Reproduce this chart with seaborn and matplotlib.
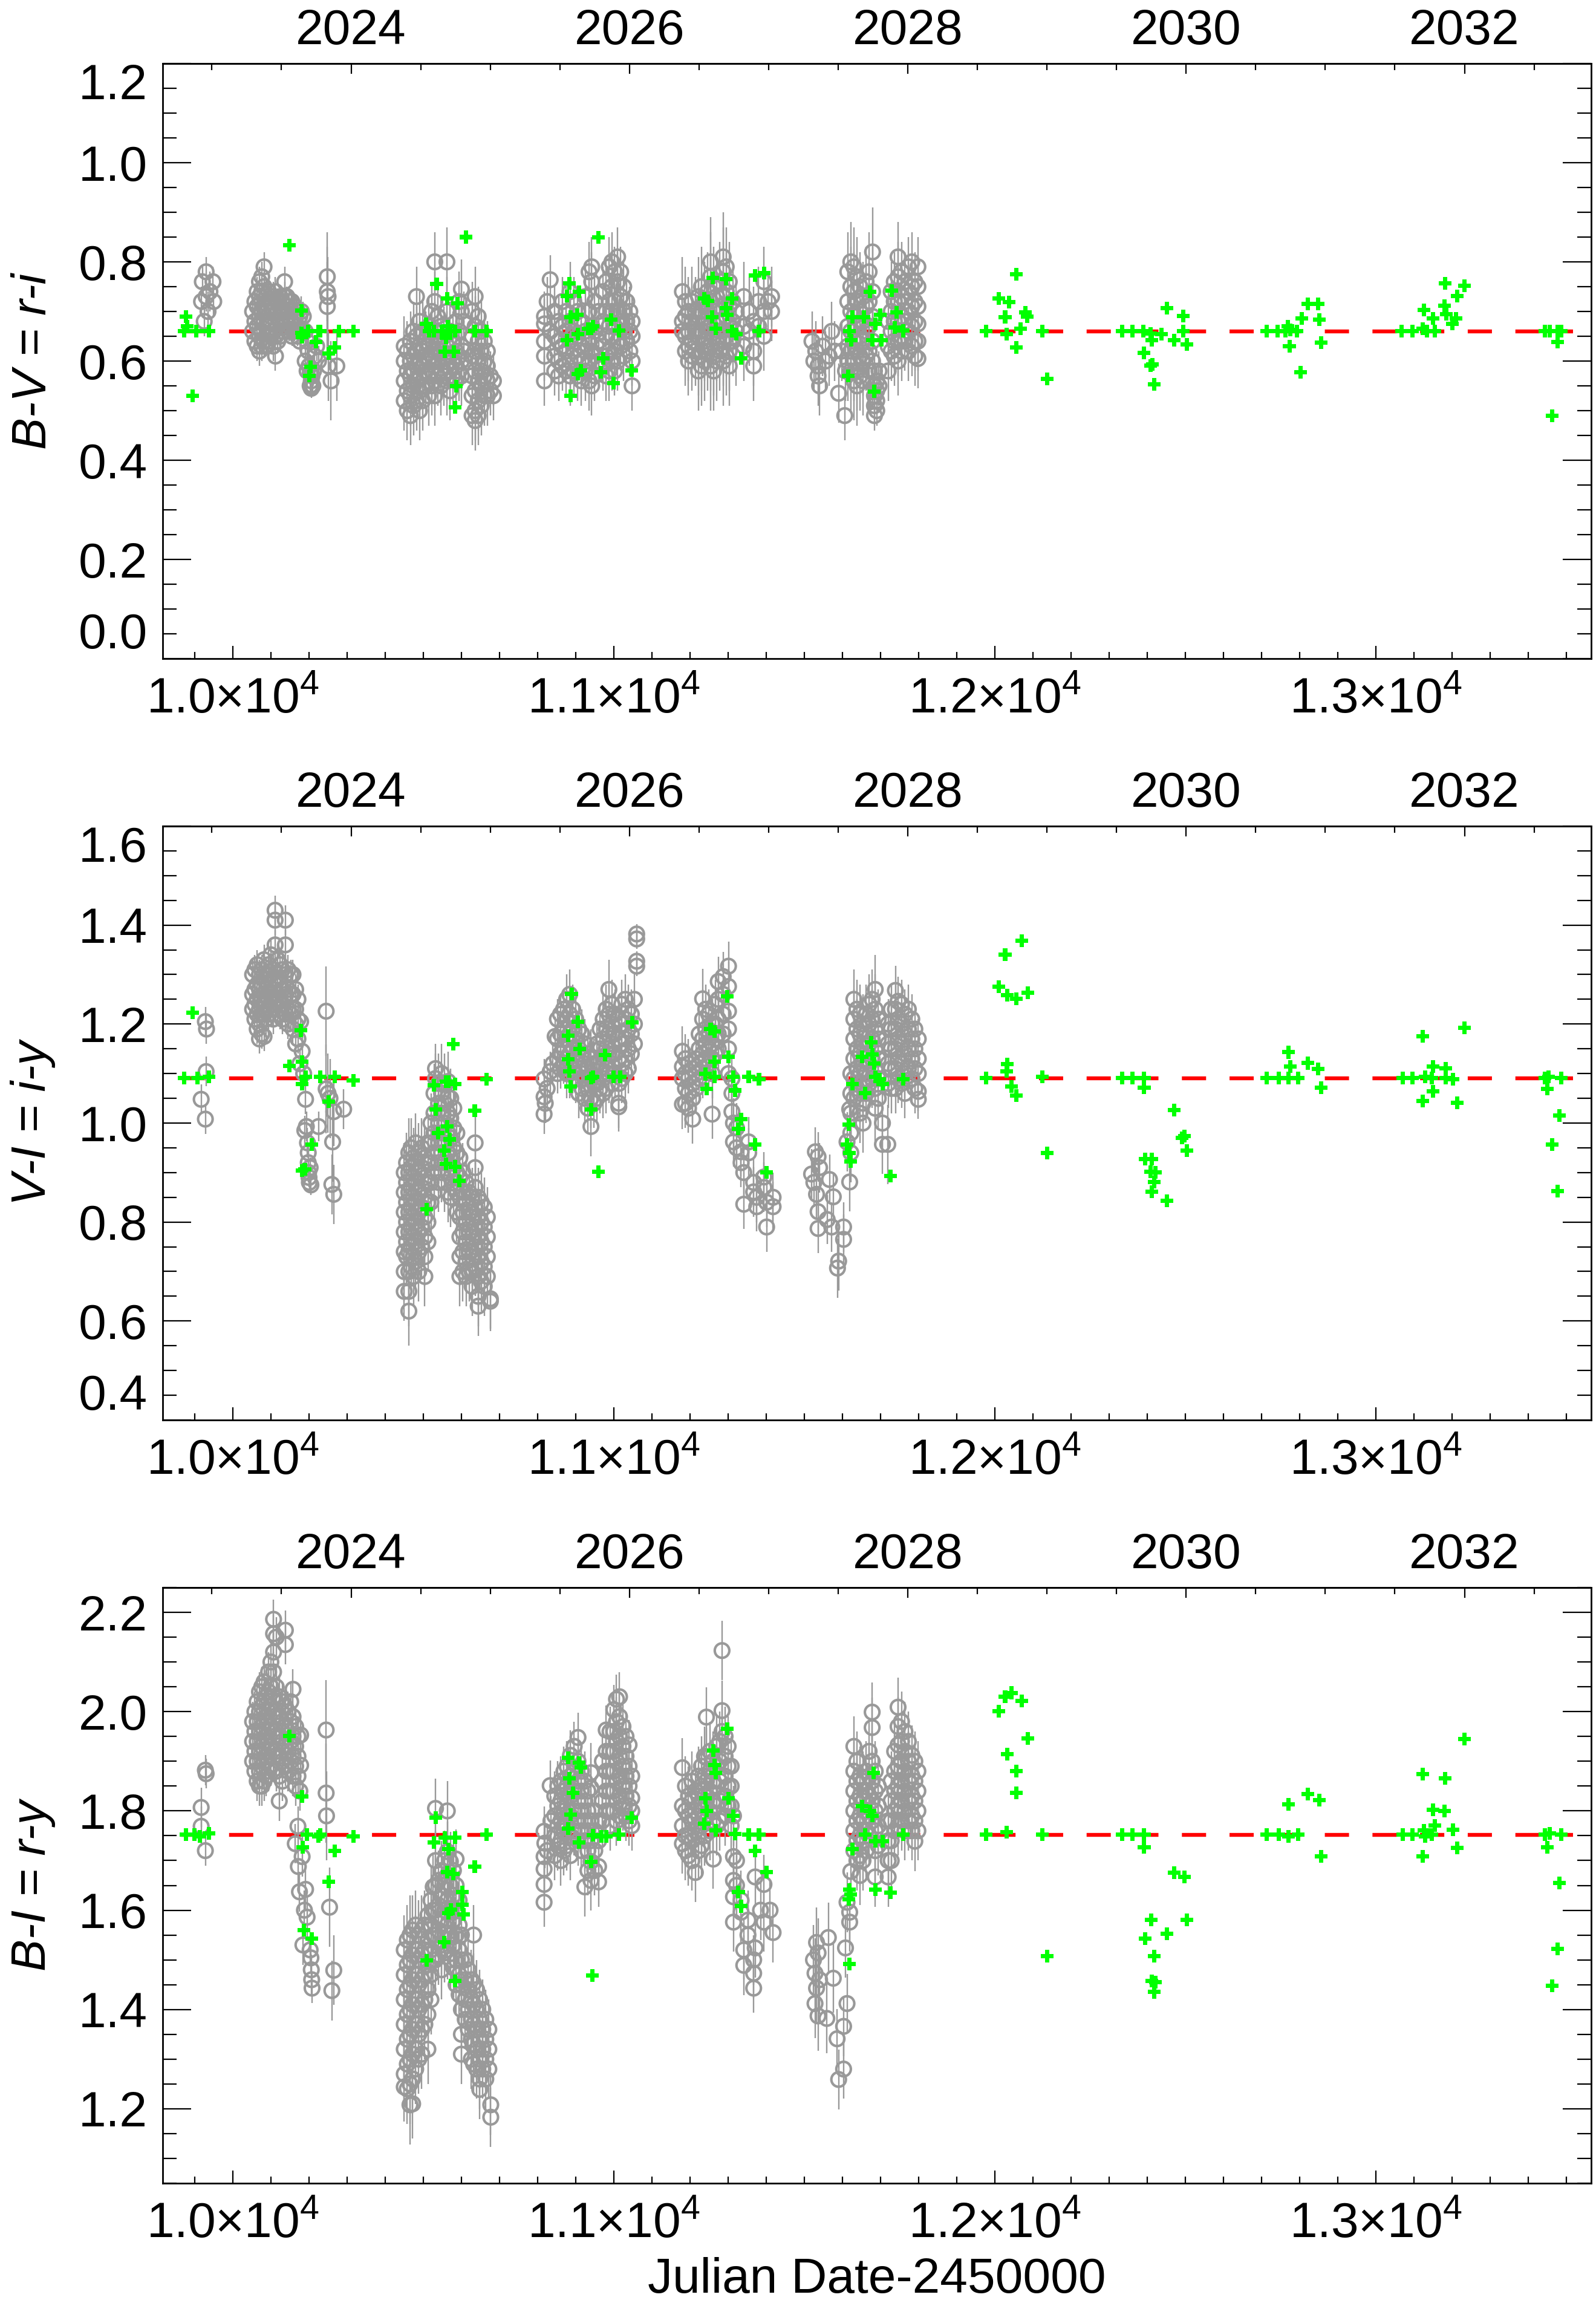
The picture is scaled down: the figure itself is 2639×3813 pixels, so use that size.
import matplotlib
matplotlib.use('Agg')
import matplotlib.pyplot as plt
import matplotlib.ticker as mticker
import pandas as pd
import seaborn as sns

# ---- data: (JD-2450000, [colour values], error) for gray points; (JD, value) for green ----
bv_gray = [
    (9918, [0.72], 0.03), (9920, [0.76], 0.03), (9925, [0.68], 0.03), (9930, [0.78, 0.73], 0.03),
    (9935, [0.70], 0.04), (9940, [0.74], 0.04), (9948, [0.76], 0.03), (9950, [0.72], 0.03),
    (10052, [0.66, 0.70], 0.02), (10058, [0.64, 0.68, 0.72], 0.02), (10064, [0.63, 0.67, 0.71, 0.74], 0.03),
    (10070, [0.62, 0.65, 0.69, 0.73, 0.76], 0.03), (10076, [0.63, 0.66, 0.70, 0.74, 0.77], 0.03),
    (10082, [0.64, 0.68, 0.71, 0.75, 0.79], 0.03), (10088, [0.63, 0.67, 0.70, 0.73], 0.02),
    (10094, [0.64, 0.68, 0.72, 0.74], 0.02), (10100, [0.65, 0.69, 0.72], 0.02),
    (10106, [0.63, 0.66, 0.70, 0.73], 0.03), (10112, [0.61, 0.65, 0.68, 0.71, 0.74], 0.03),
    (10118, [0.64, 0.67, 0.70, 0.72], 0.02), (10124, [0.65, 0.68, 0.71, 0.73], 0.02),
    (10130, [0.66, 0.69, 0.72], 0.02), (10136, [0.67, 0.70, 0.73, 0.76], 0.03),
    (10142, [0.68, 0.71, 0.73], 0.02), (10148, [0.66, 0.70, 0.72], 0.02),
    (10155, [0.65, 0.68, 0.70, 0.72], 0.02), (10162, [0.66, 0.69, 0.71], 0.02),
    (10170, [0.65, 0.67, 0.70], 0.02), (10176, [0.64, 0.66, 0.69], 0.02),
    (10180, [0.70], 0.03), (10185, [0.69], 0.03), (10190, [0.66, 0.60], 0.03), (10195, [0.64, 0.58], 0.03),
    (10198, [0.62], 0.03), (10200, [0.59], 0.03), (10203, [0.575, 0.55], 0.02), (10206, [0.56, 0.545], 0.02),
    (10208, [0.57], 0.02), (10210, [0.55], 0.02), (10212, [0.58], 0.03), (10215, [0.61], 0.03),
    (10220, [0.63], 0.03), (10225, [0.60], 0.03),
    (10248, [0.77, 0.74, 0.71], 0.09), (10250, [0.73], 0.08), (10251, [0.59], 0.07), (10258, [0.56], 0.08),
    (10273, [0.59], 0.07),
    (10450, [0.63, 0.60, 0.56, 0.52], 0.06), (10458, [0.62, 0.58, 0.54, 0.50], 0.06),
    (10466, [0.64, 0.60, 0.57, 0.53, 0.49], 0.06), (10474, [0.66, 0.61, 0.58, 0.55, 0.51], 0.06),
    (10482, [0.73, 0.65, 0.62, 0.59, 0.56, 0.52], 0.06), (10490, [0.68, 0.63, 0.60, 0.57, 0.54, 0.50], 0.06),
    (10498, [0.66, 0.62, 0.59, 0.55, 0.52], 0.06), (10506, [0.64, 0.61, 0.58, 0.55], 0.06),
    (10514, [0.67, 0.63, 0.60, 0.57, 0.53], 0.06), (10522, [0.70, 0.65, 0.61, 0.58, 0.55], 0.06),
    (10530, [0.80, 0.72, 0.66, 0.62, 0.59, 0.56, 0.53], 0.06), (10538, [0.69, 0.64, 0.60, 0.57], 0.06),
    (10546, [0.67, 0.62, 0.58, 0.55], 0.06), (10554, [0.65, 0.61, 0.57], 0.06),
    (10562, [0.80, 0.70, 0.63, 0.59, 0.56], 0.07), (10570, [0.66, 0.61, 0.58, 0.54], 0.06),
    (10578, [0.64, 0.60, 0.57], 0.06), (10586, [0.68, 0.62, 0.59, 0.56], 0.06),
    (10594, [0.72, 0.66, 0.61, 0.58], 0.06), (10600, [0.745, 0.70, 0.63, 0.60, 0.57], 0.06),
    (10606, [0.68, 0.62], 0.06),
    (10628, [0.70, 0.65, 0.61, 0.57, 0.53, 0.49], 0.06), (10636, [0.73, 0.67, 0.62, 0.58, 0.54, 0.50, 0.48], 0.06),
    (10644, [0.69, 0.64, 0.60, 0.56, 0.52, 0.49], 0.06), (10652, [0.66, 0.62, 0.58, 0.55, 0.51], 0.06),
    (10660, [0.64, 0.60, 0.57, 0.53], 0.06), (10668, [0.62, 0.59, 0.56, 0.53], 0.06),
    (10676, [0.57, 0.54], 0.05), (10684, [0.56, 0.53], 0.05),
    (10833, [0.764, 0.66], 0.05), (10818, [0.69, 0.675, 0.64, 0.61, 0.56], 0.05), (10825, [0.72], 0.05),
    (10845, [0.70, 0.65, 0.61, 0.58], 0.05), (10855, [0.68, 0.64, 0.60, 0.57], 0.05),
    (10865, [0.72, 0.67, 0.63, 0.59], 0.05), (10875, [0.70, 0.66, 0.62, 0.58], 0.05),
    (10885, [0.74, 0.68, 0.64, 0.60, 0.57], 0.06), (10895, [0.72, 0.66, 0.62, 0.58], 0.05),
    (10905, [0.70, 0.65, 0.61, 0.57], 0.05), (10915, [0.68, 0.63, 0.60, 0.56], 0.05),
    (10925, [0.73, 0.66, 0.62, 0.58], 0.06), (10935, [0.78, 0.70, 0.64, 0.60, 0.56], 0.06),
    (10942, [0.79, 0.76, 0.67, 0.62, 0.55], 0.06), (10950, [0.72, 0.66, 0.61, 0.57], 0.05),
    (10960, [0.70, 0.64, 0.60], 0.05),
    (10972, [0.74, 0.68, 0.63, 0.59], 0.05), (10980, [0.76, 0.70, 0.65, 0.61, 0.57], 0.05),
    (10988, [0.79, 0.72, 0.67, 0.62, 0.58], 0.06), (10995, [0.80, 0.75, 0.70, 0.65, 0.60], 0.06),
    (11002, [0.78, 0.72, 0.67, 0.62, 0.58], 0.05), (11010, [0.81, 0.76, 0.70, 0.64, 0.60], 0.06),
    (11018, [0.78, 0.73, 0.68, 0.63], 0.05), (11026, [0.75, 0.70, 0.66, 0.61], 0.05),
    (11034, [0.72, 0.68, 0.64], 0.05), (11042, [0.70, 0.66, 0.62], 0.05),
    (11048, [0.68, 0.65, 0.60, 0.55], 0.05),
    (11180, [0.74, 0.68, 0.66], 0.07), (11188, [0.72, 0.69, 0.65, 0.62], 0.07),
    (11196, [0.70, 0.66, 0.63, 0.60], 0.07), (11205, [0.72, 0.68, 0.64, 0.61], 0.07),
    (11214, [0.70, 0.66, 0.62], 0.07), (11222, [0.73, 0.69, 0.65, 0.61, 0.58], 0.08),
    (11230, [0.75, 0.70, 0.66, 0.62, 0.59], 0.08), (11238, [0.72, 0.68, 0.64, 0.60], 0.08),
    (11246, [0.74, 0.70, 0.66, 0.62], 0.08), (11254, [0.80, 0.77, 0.72, 0.67, 0.63, 0.59], 0.09),
    (11262, [0.75, 0.70, 0.65, 0.61, 0.58], 0.08), (11270, [0.73, 0.68, 0.64, 0.60], 0.08),
    (11278, [0.76, 0.71, 0.66, 0.62], 0.08), (11287, [0.81, 0.78, 0.73, 0.68, 0.64, 0.60], 0.09),
    (11295, [0.79, 0.74, 0.69, 0.65, 0.61], 0.08), (11303, [0.76, 0.71, 0.67, 0.62, 0.59], 0.08),
    (11312, [0.72, 0.68, 0.64], 0.07), (11320, [0.70, 0.66, 0.62], 0.07),
    (11341, [0.73, 0.67, 0.63], 0.07), (11355, [0.70, 0.66], 0.07), (11367, [0.68, 0.62, 0.59], 0.07),
    (11380, [0.72, 0.67], 0.07), (11394, [0.76, 0.70, 0.65], 0.07), (11405, [0.72], 0.06),
    (11414, [0.73, 0.70], 0.06),
    (11520, [0.64], 0.06), (11525, [0.60], 0.06), (11530, [0.62], 0.06), (11536, [0.57, 0.59], 0.06),
    (11540, [0.55], 0.06), (11548, [0.63], 0.06), (11556, [0.60], 0.06), (11565, [0.61], 0.06),
    (11572, [0.66], 0.06), (11580, [0.62], 0.06), (11590, [0.535], 0.06), (11598, [0.62], 0.06),
    (11606, [0.49], 0.05), (11608, [0.58], 0.06),
    (11614, [0.78, 0.72, 0.67, 0.63, 0.60], 0.08), (11622, [0.80, 0.75, 0.70, 0.66, 0.62, 0.58], 0.08),
    (11630, [0.79, 0.74, 0.69, 0.64, 0.60, 0.56], 0.08), (11638, [0.77, 0.72, 0.67, 0.62, 0.58, 0.55], 0.08),
    (11646, [0.75, 0.70, 0.65, 0.61, 0.57], 0.07), (11654, [0.73, 0.68, 0.64, 0.60, 0.56], 0.07),
    (11662, [0.76, 0.71, 0.66, 0.61], 0.07), (11670, [0.78, 0.72, 0.67, 0.62, 0.58], 0.08),
    (11679, [0.82, 0.74, 0.69, 0.64, 0.60], 0.09), (11684, [0.58, 0.55, 0.53, 0.51, 0.49], 0.03),
    (11690, [0.56, 0.54, 0.52, 0.50], 0.03), (11696, [0.58, 0.55], 0.04),
    (11720, [0.68, 0.63, 0.58], 0.06), (11728, [0.74, 0.70, 0.66, 0.62], 0.06),
    (11736, [0.76, 0.72, 0.68, 0.64, 0.61], 0.06), (11746, [0.81, 0.77, 0.72, 0.68, 0.64, 0.60], 0.07),
    (11755, [0.78, 0.73, 0.69, 0.65, 0.62], 0.06), (11764, [0.76, 0.72, 0.68, 0.64], 0.06),
    (11773, [0.79, 0.74, 0.70, 0.66, 0.62], 0.06), (11782, [0.80, 0.75, 0.71, 0.67, 0.63], 0.06),
    (11790, [0.76, 0.72, 0.68, 0.64, 0.61], 0.06), (11798, [0.79, 0.75, 0.71, 0.675, 0.64, 0.605], 0.06),
]

bv_green = [
    (9873, 0.66), (9877, 0.69), (9880, 0.67), (9894, 0.53), (9904, 0.66), (9937, 0.66),
    (10148, 0.834), (10180, 0.702), (10180, 0.657), (10182, 0.648), (10198, 0.66), (10225, 0.66),
    (10219, 0.639), (10230, 0.66), (10278, 0.66), (10316, 0.66), (10204, 0.588), (10201, 0.570),
    (10251, 0.615), (10267, 0.628),
    (10535, 0.756), (10612, 0.85), (10565, 0.67), (10563, 0.726), (10590, 0.717), (10560, 0.647),
    (10580, 0.619), (10556, 0.619), (10587, 0.549), (10583, 0.507), (10508, 0.675), (10515, 0.66),
    (10528, 0.66), (10548, 0.66), (10571, 0.66), (10584, 0.66), (10635, 0.66), (10666, 0.66),
    (10960, 0.849), (10884, 0.757), (10877, 0.731), (10909, 0.74), (10886, 0.689), (10904, 0.693),
    (10877, 0.642), (10906, 0.654), (10933, 0.665), (10940, 0.665), (10946, 0.67), (10993, 0.684),
    (11013, 0.661), (10973, 0.605), (10966, 0.577), (11000, 0.555), (10913, 0.581), (10906, 0.574),
    (10886, 0.53), (11047, 0.581),
    (11238, 0.726), (11247, 0.721), (11259, 0.768), (11295, 0.765), (11258, 0.689), (11268, 0.665),
    (11295, 0.707), (11311, 0.726), (11298, 0.693), (11311, 0.66), (11322, 0.654), (11334, 0.605),
    (11371, 0.773), (11394, 0.777), (11381, 0.66),
    (11626, 0.689), (11619, 0.66), (11623, 0.642), (11615, 0.57), (11656, 0.689), (11672, 0.74),
    (11686, 0.675), (11679, 0.642), (11699, 0.693), (11702, 0.642), (11729, 0.742), (11742, 0.698),
    (11737, 0.668), (11759, 0.661), (11683, 0.539),
    (11977, 0.66), (12011, 0.726), (12027, 0.689), (12037, 0.719), (12031, 0.654), (12057, 0.775),
    (12067, 0.665), (12056, 0.628), (12080, 0.698), (12085, 0.69), (12124, 0.66), (12138, 0.564),
    (12334, 0.66), (12361, 0.66), (12390, 0.66), (12408, 0.656), (12412, 0.642), (12391, 0.616),
    (12408, 0.591), (12414, 0.593), (12418, 0.553), (12438, 0.654), (12451, 0.707), (12471, 0.642),
    (12495, 0.691), (12495, 0.66), (12504, 0.633),
    (12713, 0.66), (12742, 0.66), (12762, 0.66), (12769, 0.67), (12775, 0.663), (12773, 0.63),
    (12793, 0.66), (12806, 0.686), (12822, 0.715), (12849, 0.715), (12852, 0.684), (12802, 0.577),
    (12856, 0.637),
    (13067, 0.66), (13096, 0.66), (13123, 0.665), (13126, 0.703), (13134, 0.66), (13150, 0.686),
    (13154, 0.66), (13180, 0.712), (13182, 0.757), (13185, 0.695), (13200, 0.675), (13211, 0.686),
    (13214, 0.731), (13233, 0.752),
    (13444, 0.66), (13457, 0.66), (13477, 0.66), (13487, 0.66), (13477, 0.639), (13462, 0.49),
]

vi_gray = [
    (9917, [1.048], 0.03), (9928, [1.205, 1.008], 0.03), (9931, [1.19], 0.03), (9930, [1.104], 0.03),
    (10052, [1.30, 1.26, 1.23], 0.03), (10058, [1.31, 1.27, 1.24, 1.21], 0.03),
    (10064, [1.32, 1.28, 1.25, 1.22, 1.19], 0.03), (10070, [1.30, 1.27, 1.23, 1.20, 1.17], 0.03),
    (10076, [1.31, 1.28, 1.25, 1.22, 1.18], 0.03), (10082, [1.33, 1.29, 1.26, 1.22, 1.175], 0.03),
    (10088, [1.30, 1.27, 1.24, 1.21], 0.03), (10094, [1.32, 1.28, 1.25, 1.22], 0.03),
    (10100, [1.34, 1.30, 1.26, 1.23], 0.03), (10106, [1.31, 1.27, 1.24, 1.21], 0.03),
    (10111, [1.43, 1.41, 1.36, 1.29, 1.25], 0.03), (10118, [1.33, 1.29, 1.26, 1.23], 0.03),
    (10124, [1.32, 1.28, 1.25, 1.22], 0.03), (10130, [1.31, 1.27, 1.24, 1.21], 0.03),
    (10138, [1.41, 1.36, 1.30, 1.26, 1.22], 0.03), (10145, [1.31, 1.27, 1.23, 1.20], 0.03),
    (10152, [1.30, 1.26, 1.22], 0.03), (10158, [1.30, 1.26, 1.23, 1.19], 0.03),
    (10165, [1.27, 1.23, 1.20, 1.16], 0.03), (10171, [1.25, 1.21, 1.17], 0.03),
    (10178, [1.205], 0.03), (10182, [1.145], 0.03), (10176, [1.12], 0.03), (10186, [1.10], 0.03),
    (10191, [1.048], 0.03), (10193, [0.993], 0.03), (10189, [0.985], 0.03), (10198, [0.94, 0.92], 0.02),
    (10199, [0.90], 0.02), (10200, [0.89], 0.02), (10201, [0.88], 0.02), (10203, [0.91], 0.02),
    (10205, [0.875], 0.02), (10196, [0.96], 0.03), (10225, [0.993], 0.03),
    (10245, [1.226, 1.069], 0.09), (10250, [1.06], 0.08), (10255, [1.05], 0.08), (10265, [1.023], 0.07),
    (10262, [0.962], 0.08), (10260, [0.876], 0.06), (10265, [0.856], 0.06), (10291, [1.028], 0.04),
    (10450, [0.90, 0.86, 0.82, 0.78, 0.74, 0.70, 0.66], 0.06), (10456, [0.92, 0.88, 0.84, 0.80, 0.76, 0.73], 0.06),
    (10462, [0.94, 0.90, 0.86, 0.82, 0.78, 0.74, 0.70, 0.66, 0.62], 0.07),
    (10468, [0.95, 0.91, 0.87, 0.83, 0.79, 0.75, 0.71], 0.06),
    (10474, [0.93, 0.89, 0.85, 0.81, 0.77, 0.73, 0.69], 0.06),
    (10480, [0.96, 0.92, 0.88, 0.84, 0.80, 0.76, 0.72], 0.06),
    (10488, [0.94, 0.90, 0.86, 0.82, 0.78, 0.74, 0.70], 0.06),
    (10496, [0.95, 0.91, 0.87, 0.83, 0.79, 0.75], 0.06),
    (10504, [0.93, 0.89, 0.85, 0.81, 0.77, 0.73, 0.69], 0.06),
    (10512, [0.96, 0.92, 0.88, 0.84, 0.80, 0.76], 0.06), (10520, [1.00, 0.96, 0.92, 0.88, 0.84], 0.06),
    (10528, [1.06, 1.02, 0.98, 0.94, 0.90, 0.86], 0.06), (10532, [1.11, 1.09], 0.05),
    (10540, [1.08, 1.04, 1.00, 0.96, 0.92, 0.88], 0.06), (10548, [1.10, 1.06, 1.02, 0.98, 0.94, 0.90], 0.06),
    (10556, [1.08, 1.04, 1.00, 0.96, 0.92, 0.88], 0.06),
    (10565, [1.084, 1.053, 1.02, 0.98, 0.94, 0.90, 0.86], 0.06),
    (10572, [1.05, 1.01, 0.97, 0.93, 0.89, 0.85], 0.06), (10580, [1.03, 0.99, 0.95, 0.91, 0.87], 0.06),
    (10588, [0.98, 0.94, 0.90, 0.86, 0.82], 0.06), (10596, [0.93, 0.89, 0.85, 0.81, 0.77, 0.73, 0.69], 0.06),
    (10604, [0.90, 0.86, 0.82, 0.78, 0.74, 0.70], 0.06), (10612, [0.88, 0.84, 0.80, 0.76, 0.72, 0.69], 0.06),
    (10620, [0.86, 0.82, 0.78, 0.74, 0.70], 0.06), (10628, [0.85, 0.81, 0.77, 0.73, 0.70, 0.67], 0.06),
    (10636, [0.96, 0.91, 0.87, 0.83, 0.79, 0.75, 0.71], 0.06),
    (10644, [0.85, 0.81, 0.77, 0.73, 0.69, 0.65, 0.63], 0.06),
    (10652, [0.84, 0.80, 0.76, 0.72, 0.68], 0.06), (10660, [0.83, 0.79, 0.75, 0.71, 0.67], 0.06),
    (10668, [0.81, 0.77, 0.73, 0.69], 0.06), (10676, [0.64, 0.645], 0.06),
    (10817, [1.089, 1.053, 1.018], 0.04), (10820, [1.04], 0.04), (10833, [1.104], 0.04), (10825, [1.07], 0.04),
    (10840, [1.12], 0.04), (10846, [1.175], 0.04),
    (10852, [1.21, 1.17, 1.13, 1.10], 0.04), (10860, [1.22, 1.18, 1.14, 1.11], 0.04),
    (10868, [1.23, 1.19, 1.15, 1.12], 0.04), (10876, [1.25, 1.21, 1.17, 1.13, 1.10], 0.05),
    (10884, [1.26, 1.22, 1.18, 1.14, 1.10], 0.05), (10892, [1.23, 1.19, 1.15, 1.11], 0.05),
    (10900, [1.21, 1.17, 1.13, 1.09], 0.05), (10908, [1.19, 1.15, 1.11, 1.06], 0.05),
    (10916, [1.18, 1.14, 1.10, 1.07], 0.05), (10924, [1.16, 1.12, 1.09, 1.05], 0.05),
    (10932, [1.14, 1.11, 1.07, 1.03], 0.05), (10940, [1.13, 1.09, 1.05, 0.993], 0.06),
    (10948, [1.12, 1.08, 1.04], 0.05),
    (10956, [1.16, 1.12, 1.08, 1.05], 0.05), (10964, [1.19, 1.15, 1.11, 1.07], 0.05),
    (10972, [1.21, 1.17, 1.13, 1.09, 1.06], 0.05), (10980, [1.23, 1.19, 1.15, 1.11, 1.07], 0.05),
    (10987, [1.27, 1.22, 1.18, 1.14, 1.10], 0.06), (10995, [1.24, 1.20, 1.16, 1.12, 1.08], 0.05),
    (11003, [1.22, 1.18, 1.14, 1.10], 0.05), (11013, [1.21, 1.17, 1.13, 1.08, 1.033, 1.04], 0.05),
    (11021, [1.24, 1.20, 1.16, 1.12, 1.09], 0.05), (11030, [1.25, 1.21, 1.17, 1.13, 1.10], 0.05),
    (11038, [1.23, 1.19, 1.15, 1.11], 0.05), (11046, [1.22, 1.18, 1.14], 0.05),
    (11054, [1.25, 1.20, 1.16], 0.05), (11060, [1.382, 1.372, 1.327, 1.317], 0.02),
    (11180, [1.145, 1.114, 1.038, 1.09], 0.05), (11188, [1.13, 1.10, 1.07, 1.04], 0.05),
    (11196, [1.12, 1.09, 1.06, 1.03], 0.05), (11207, [1.11, 1.08, 1.05, 1.008], 0.05),
    (11216, [1.13, 1.10, 1.07], 0.05), (11224, [1.18, 1.15, 1.12, 1.09], 0.05),
    (11233, [1.251, 1.21, 1.17, 1.14, 1.11], 0.06), (11241, [1.23, 1.19, 1.16, 1.13], 0.05),
    (11249, [1.22, 1.18, 1.15, 1.12], 0.05), (11258, [1.20, 1.16, 1.13, 1.10, 1.018], 0.05),
    (11266, [1.24, 1.20, 1.17, 1.14], 0.05), (11274, [1.286, 1.25, 1.21, 1.18, 1.15], 0.05),
    (11287, [1.296, 1.26, 1.22, 1.18], 0.05), (11301, [1.317, 1.276, 1.226, 1.19, 1.15, 1.10], 0.05),
    (11310, [1.09, 1.06, 1.023], 0.05), (11314, [0.962, 1.00], 0.05), (11322, [0.99, 0.95], 0.05),
    (11334, [0.942, 0.92], 0.05), (11341, [0.836, 0.90], 0.05), (11354, [0.962, 0.94], 0.05),
    (11367, [0.861, 0.88], 0.05), (11375, [0.831, 0.85], 0.05), (11394, [0.891, 0.87], 0.05),
    (11401, [0.79, 0.84], 0.05), (11418, [0.831, 0.85], 0.05),
    (11529, [0.942], 0.05), (11536, [0.932, 0.821, 0.787], 0.05), (11519, [0.897], 0.05), (11532, [0.856], 0.05),
    (11525, [0.88], 0.05), (11540, [0.91], 0.05), (11566, [0.886], 0.05), (11560, [0.805], 0.05),
    (11576, [0.851], 0.05), (11572, [0.79], 0.05), (11603, [0.79, 0.765], 0.05), (11590, [0.721], 0.06),
    (11587, [0.707], 0.06), (11619, [0.881, 1.028], 0.06), (11612, [0.962], 0.06),
    (11622, [1.10, 1.06, 1.02, 0.98, 0.94], 0.06), (11630, [1.25, 1.21, 1.17, 1.13, 1.09, 1.05], 0.06),
    (11638, [1.23, 1.19, 1.15, 1.11, 1.07], 0.06), (11646, [1.22, 1.18, 1.14, 1.10, 1.06, 1.02], 0.06),
    (11654, [1.20, 1.16, 1.12, 1.08, 1.04, 1.00], 0.06), (11662, [1.22, 1.18, 1.14, 1.10, 1.06], 0.06),
    (11670, [1.24, 1.20, 1.16, 1.12, 1.08], 0.06), (11678, [1.25, 1.21, 1.17, 1.13, 1.09], 0.06),
    (11686, [1.27, 1.23, 1.19, 1.15, 1.11, 1.07, 1.03], 0.07), (11694, [1.21, 1.17, 1.13, 1.09, 1.05], 0.06),
    (11705, [0.957, 1.00], 0.06), (11719, [0.957], 0.08),
    (11720, [1.20, 1.16, 1.12, 1.08], 0.05), (11728, [1.23, 1.19, 1.15, 1.11, 1.07], 0.05),
    (11739, [1.268, 1.23, 1.19, 1.15, 1.11, 1.07], 0.05), (11746, [1.246, 1.21, 1.17, 1.13, 1.09], 0.05),
    (11755, [1.24, 1.20, 1.16, 1.12, 1.08], 0.05), (11764, [1.22, 1.18, 1.14, 1.10, 1.06], 0.05),
    (11773, [1.23, 1.19, 1.15, 1.11], 0.05), (11782, [1.21, 1.17, 1.13, 1.09], 0.05),
    (11790, [1.19, 1.15, 1.11, 1.07], 0.05), (11799, [1.17, 1.13, 1.10, 1.064, 1.048], 0.04),
]

vi_green = [
    (9894, 1.223), (9873, 1.091), (9908, 1.091), (9937, 1.094),
    (10148, 1.116), (10178, 1.187), (10182, 1.124), (10182, 1.079), (10191, 1.094), (10229, 1.094),
    (10267, 1.094), (10316, 1.086), (10251, 1.043), (10207, 0.957), (10182, 0.904), (10189, 0.907),
    (10509, 0.826), (10528, 1.076), (10532, 1.028), (10539, 0.98), (10555, 0.944), (10559, 0.917),
    (10569, 0.967), (10563, 0.993), (10559, 1.084), (10566, 1.084), (10579, 1.16), (10583, 1.079),
    (10583, 0.912), (10595, 0.883), (10635, 1.025), (10666, 1.089),
    (10889, 1.261), (10906, 1.205), (10880, 1.177), (10910, 1.15), (10880, 1.129), (10884, 1.104),
    (10886, 1.074), (10940, 1.028), (10946, 1.094), (10940, 1.091), (10960, 0.902), (10977, 1.137),
    (11000, 1.094), (11017, 1.094), (11049, 1.203),
    (11240, 1.099), (11244, 1.069), (11254, 1.19), (11264, 1.185), (11264, 1.124), (11264, 1.094),
    (11298, 1.256), (11301, 1.134), (11314, 1.094), (11318, 1.066), (11327, 0.988), (11334, 1.008),
    (11354, 1.094), (11381, 1.089), (11371, 0.957), (11401, 0.9),
    (11612, 0.957), (11619, 0.94), (11622, 0.922), (11616, 0.997), (11626, 1.079), (11652, 1.134),
    (11676, 1.163), (11679, 1.139), (11659, 1.061), (11683, 1.12), (11686, 1.094), (11697, 1.089),
    (11706, 1.079), (11726, 0.893), (11759, 1.089),
    (11977, 1.091), (12011, 1.276), (12027, 1.34), (12033, 1.259), (12057, 1.251), (12070, 1.369),
    (12087, 1.263), (12033, 1.119), (12031, 1.104), (12044, 1.074), (12057, 1.056), (12124, 1.094),
    (12138, 0.94),
    (12334, 1.091), (12361, 1.091), (12392, 1.091), (12392, 1.071), (12394, 0.927), (12412, 0.927),
    (12408, 0.902), (12422, 0.9), (12418, 0.881), (12412, 0.861), (12451, 0.843), (12471, 1.026),
    (12491, 0.97), (12498, 0.974), (12504, 0.944),
    (12713, 1.091), (12745, 1.091), (12771, 1.091), (12796, 1.091), (12771, 1.143), (12775, 1.114),
    (12822, 1.121), (12849, 1.109), (12856, 1.072),
    (13070, 1.091), (13096, 1.091), (13123, 1.175), (13123, 1.045), (13130, 1.094), (13150, 1.114),
    (13150, 1.064), (13147, 1.091), (13183, 1.111), (13183, 1.091), (13203, 1.089), (13214, 1.041),
    (13233, 1.192),
    (13444, 1.091), (13453, 1.094), (13487, 1.091), (13450, 1.069), (13481, 1.015), (13462, 0.957),
    (13477, 0.863),
]

bi_gray = [
    (9928, [1.882, 1.72], 0.03), (9930, [1.875], 0.03), (9917, [1.807, 1.769], 0.04),
    (10052, [1.98, 1.94, 1.90], 0.04), (10058, [2.00, 1.96, 1.92, 1.88], 0.04),
    (10064, [2.02, 1.98, 1.94, 1.90, 1.86], 0.04), (10070, [2.04, 2.00, 1.96, 1.92, 1.88, 1.85], 0.04),
    (10076, [2.05, 2.01, 1.97, 1.93, 1.89, 1.85], 0.04), (10082, [2.06, 2.02, 1.98, 1.94, 1.90, 1.86], 0.04),
    (10088, [2.03, 1.99, 1.95, 1.91, 1.87], 0.04), (10094, [2.08, 2.04, 2.00, 1.96, 1.92, 1.88], 0.04),
    (10100, [2.10, 2.05, 2.01, 1.97, 1.93, 1.89], 0.04),
    (10107, [2.186, 2.157, 2.12, 2.08, 2.03, 1.99, 1.95, 1.91], 0.04),
    (10114, [2.15, 2.05, 2.00, 1.96, 1.92, 1.88], 0.04), (10122, [2.03, 1.99, 1.95, 1.91, 1.87, 1.82], 0.04),
    (10130, [2.02, 1.98, 1.94, 1.90, 1.86], 0.04), (10138, [2.164, 2.135, 2.01, 1.97, 1.93, 1.89], 0.04),
    (10145, [2.00, 1.96, 1.92, 1.88], 0.04), (10152, [2.02, 1.98, 1.94, 1.90], 0.04),
    (10158, [2.045, 1.99, 1.95, 1.91, 1.87], 0.04), (10165, [1.97, 1.93, 1.89, 1.85], 0.04),
    (10171, [1.95, 1.91, 1.87, 1.769], 0.04),
    (10178, [1.953, 1.892], 0.04), (10176, [1.84], 0.04), (10164, [1.734], 0.04), (10172, [1.688], 0.04),
    (10182, [1.708], 0.04), (10175, [1.637], 0.04), (10191, [1.642], 0.04), (10188, [1.60], 0.04),
    (10184, [1.53], 0.04), (10195, [1.586], 0.04), (10205, [1.504], 0.03), (10206, [1.48], 0.03),
    (10207, [1.46], 0.03), (10208, [1.443], 0.03), (10203, [1.52], 0.03),
    (10245, [1.963, 1.836], 0.1), (10246, [1.79], 0.09), (10254, [1.606], 0.08), (10265, [1.479], 0.07),
    (10260, [1.438], 0.06),
    (10450, [1.52, 1.47, 1.42, 1.37, 1.32, 1.27, 1.244], 0.07),
    (10458, [1.54, 1.49, 1.44, 1.39, 1.34, 1.29, 1.24], 0.07),
    (10465, [1.55, 1.50, 1.45, 1.40, 1.35, 1.30, 1.25, 1.208], 0.08),
    (10472, [1.56, 1.51, 1.46, 1.41, 1.36, 1.31, 1.26, 1.21], 0.07),
    (10480, [1.57, 1.52, 1.47, 1.42, 1.37, 1.32, 1.28], 0.07),
    (10488, [1.55, 1.50, 1.45, 1.40, 1.35, 1.30], 0.07), (10496, [1.56, 1.51, 1.46, 1.41, 1.36, 1.31], 0.07),
    (10504, [1.57, 1.52, 1.47, 1.42, 1.37], 0.07), (10512, [1.59, 1.54, 1.49, 1.44, 1.39, 1.32], 0.07),
    (10520, [1.62, 1.57, 1.52, 1.47, 1.42], 0.07), (10526, [1.647, 1.60, 1.55, 1.50], 0.07),
    (10532, [1.805, 1.70, 1.65, 1.60, 1.55, 1.50], 0.06), (10540, [1.66, 1.61, 1.56, 1.51], 0.06),
    (10548, [1.68, 1.63, 1.58, 1.53, 1.48], 0.06), (10556, [1.70, 1.65, 1.60, 1.555, 1.514], 0.06),
    (10563, [1.80, 1.718, 1.67, 1.62, 1.57, 1.52], 0.06), (10571, [1.698, 1.65, 1.60, 1.55, 1.50], 0.06),
    (10579, [1.68, 1.63, 1.58, 1.53, 1.484], 0.06), (10586, [1.703, 1.65, 1.60, 1.55, 1.50, 1.45], 0.06),
    (10594, [1.62, 1.57, 1.52, 1.47, 1.43], 0.06), (10600, [1.55, 1.50, 1.45, 1.40, 1.35, 1.31], 0.06),
    (10610, [1.50, 1.46, 1.42, 1.38], 0.06), (10618, [1.48, 1.44, 1.40, 1.36], 0.06),
    (10626, [1.46, 1.42, 1.38, 1.34, 1.30], 0.06), (10632, [1.55, 1.453, 1.41, 1.37, 1.33, 1.29], 0.06),
    (10640, [1.44, 1.40, 1.36, 1.32, 1.28], 0.06), (10648, [1.42, 1.38, 1.34, 1.30, 1.26, 1.239], 0.06),
    (10656, [1.40, 1.36, 1.32, 1.28], 0.06), (10664, [1.38, 1.34, 1.30, 1.26], 0.06),
    (10672, [1.36, 1.32, 1.28], 0.06), (10677, [1.208, 1.183], 0.06),
    (10817, [1.616, 1.652, 1.683, 1.708, 1.759], 0.05), (10819, [1.735], 0.05), (10825, [1.72], 0.05),
    (10833, [1.851], 0.05), (10835, [1.78], 0.05),
    (10845, [1.83, 1.79, 1.75, 1.71], 0.05), (10853, [1.85, 1.81, 1.77, 1.73], 0.05),
    (10861, [1.86, 1.82, 1.78, 1.74, 1.70], 0.05), (10869, [1.88, 1.84, 1.80, 1.76, 1.72], 0.05),
    (10877, [1.89, 1.85, 1.81, 1.77, 1.73], 0.05), (10886, [1.912, 1.87, 1.83, 1.79, 1.75, 1.71], 0.05),
    (10896, [1.93, 1.88, 1.84, 1.80, 1.76], 0.05), (10906, [1.948, 1.90, 1.86, 1.82, 1.78, 1.74], 0.05),
    (10915, [1.88, 1.84, 1.80, 1.76, 1.72], 0.05), (10924, [1.86, 1.82, 1.78, 1.74, 1.647], 0.06),
    (10932, [1.84, 1.80, 1.76, 1.72, 1.68], 0.05), (10940, [1.877, 1.846, 1.78, 1.74, 1.698, 1.66], 0.06),
    (10950, [1.80, 1.76, 1.72, 1.68], 0.05), (10960, [1.78, 1.74, 1.688, 1.657], 0.05),
    (10970, [1.90, 1.86, 1.82, 1.78], 0.05), (10980, [1.963, 1.92, 1.88, 1.84, 1.80], 0.05),
    (10990, [1.96, 1.92, 1.88, 1.84, 1.80, 1.77], 0.05), (11000, [2.004, 1.96, 1.92, 1.88, 1.84, 1.80], 0.05),
    (11007, [2.025, 1.98, 1.94, 1.90, 1.86, 1.82, 1.78], 0.05),
    (11015, [2.03, 1.99, 1.95, 1.91, 1.87, 1.83, 1.79], 0.05),
    (11024, [1.97, 1.93, 1.89, 1.85, 1.81], 0.05), (11032, [1.95, 1.91, 1.87, 1.83, 1.79], 0.05),
    (11040, [1.933, 1.89, 1.85, 1.81, 1.78], 0.05), (11047, [1.87, 1.826, 1.80, 1.77], 0.05),
    (11180, [1.887, 1.81, 1.734, 1.77], 0.06), (11188, [1.85, 1.80, 1.75, 1.72], 0.06),
    (11196, [1.83, 1.79, 1.75, 1.71], 0.06), (11205, [1.86, 1.82, 1.78, 1.74, 1.70], 0.06),
    (11214, [1.84, 1.80, 1.76, 1.676], 0.06), (11222, [1.87, 1.83, 1.79, 1.75, 1.72], 0.06),
    (11230, [1.89, 1.85, 1.81, 1.77, 1.73], 0.06), (11238, [1.91, 1.87, 1.83, 1.79, 1.75], 0.06),
    (11243, [1.989, 1.907, 1.86, 1.82], 0.06), (11252, [1.92, 1.88, 1.84, 1.80, 1.76], 0.06),
    (11261, [1.90, 1.86, 1.82, 1.78, 1.703], 0.06), (11270, [1.93, 1.89, 1.85, 1.81, 1.77], 0.06),
    (11278, [1.94, 1.90, 1.86, 1.82, 1.78], 0.06), (11284, [2.002, 2.123, 1.96], 0.06),
    (11292, [1.95, 1.91, 1.87, 1.83, 1.79], 0.06), (11300, [1.93, 1.89, 1.85, 1.81], 0.06),
    (11308, [1.89, 1.85, 1.81, 1.77], 0.06), (11314, [1.79, 1.708, 1.66, 1.627, 1.576], 0.06),
    (11322, [1.70, 1.65], 0.06), (11334, [1.596, 1.62], 0.06), (11341, [1.489, 1.52], 0.06),
    (11352, [1.58, 1.55], 0.06), (11367, [1.473, 1.443, 1.50], 0.05), (11371, [1.524, 1.667], 0.06),
    (11385, [1.60], 0.06), (11394, [1.652, 1.576], 0.06), (11410, [1.60], 0.06), (11418, [1.555], 0.06),
    (11532, [1.535, 1.443], 0.07), (11536, [1.514, 1.387], 0.07), (11528, [1.473, 1.412], 0.07),
    (11524, [1.50], 0.07), (11540, [1.46], 0.07), (11563, [1.545], 0.07), (11559, [1.382], 0.07),
    (11576, [1.463], 0.07), (11586, [1.341], 0.06), (11590, [1.259], 0.06), (11603, [1.28, 1.366], 0.06),
    (11612, [1.412, 1.616], 0.06), (11608, [1.524], 0.06), (11619, [1.596, 1.576], 0.06), (11622, [1.678], 0.06),
    (11630, [1.93, 1.88, 1.84, 1.80, 1.76, 1.72], 0.06), (11638, [1.90, 1.86, 1.82, 1.78, 1.74, 1.70], 0.06),
    (11646, [1.87, 1.83, 1.79, 1.75, 1.71, 1.67], 0.06), (11654, [1.86, 1.82, 1.78, 1.74, 1.70], 0.06),
    (11662, [1.88, 1.84, 1.80, 1.76, 1.72], 0.06), (11670, [1.92, 1.87, 1.83, 1.79, 1.75], 0.06),
    (11678, [1.999, 1.968, 1.90, 1.86, 1.82, 1.78], 0.06), (11686, [1.88, 1.84, 1.80, 1.76, 1.72, 1.667], 0.06),
    (11694, [1.85, 1.81, 1.77, 1.73], 0.06),
    (11720, [1.78, 1.74, 1.70, 1.667], 0.06), (11728, [1.86, 1.82, 1.78, 1.74, 1.70], 0.06),
    (11737, [1.92, 1.88, 1.84, 1.80, 1.76], 0.06), (11746, [2.009, 1.97, 1.933, 1.89, 1.85, 1.81, 1.77], 0.06),
    (11755, [1.98, 1.94, 1.90, 1.86, 1.82, 1.78], 0.06), (11764, [1.96, 1.92, 1.88, 1.84, 1.80, 1.76], 0.06),
    (11773, [1.94, 1.90, 1.86, 1.82, 1.78], 0.06), (11782, [1.912, 1.871, 1.83, 1.79, 1.76], 0.06),
    (11790, [1.90, 1.86, 1.82, 1.78, 1.739], 0.06), (11798, [1.88, 1.84, 1.80, 1.76], 0.06),
]

bi_green = [
    (9877, 1.752), (9900, 1.752), (9913, 1.749), (9937, 1.755),
    (10148, 1.951), (10182, 1.829), (10184, 1.727), (10195, 1.752), (10229, 1.752), (10225, 1.749),
    (10267, 1.72), (10316, 1.749), (10251, 1.657), (10187, 1.56), (10207, 1.543),
    (10509, 1.499), (10532, 1.787), (10528, 1.737), (10555, 1.535), (10566, 1.594), (10573, 1.601),
    (10563, 1.677), (10579, 1.673), (10566, 1.723), (10556, 1.746), (10583, 1.746), (10583, 1.458),
    (10603, 1.611), (10606, 1.591), (10603, 1.637), (10635, 1.688), (10666, 1.752),
    (10880, 1.907), (10884, 1.866), (10893, 1.836), (10886, 1.792), (10880, 1.764), (10909, 1.897),
    (10913, 1.887), (10909, 1.737), (10940, 1.698), (10946, 1.751), (10944, 1.468), (10967, 1.749),
    (10980, 1.749), (11013, 1.752), (11047, 1.787),
    (11238, 1.774), (11244, 1.8), (11240, 1.826), (11261, 1.922), (11264, 1.892), (11268, 1.877),
    (11268, 1.761), (11298, 1.965), (11301, 1.826), (11314, 1.79), (11318, 1.754), (11327, 1.637),
    (11334, 1.608), (11354, 1.752), (11381, 1.752), (11371, 1.72), (11401, 1.677),
    (11619, 1.642), (11622, 1.632), (11616, 1.622), (11619, 1.492), (11626, 1.723), (11652, 1.81),
    (11672, 1.80), (11679, 1.79), (11682, 1.877), (11659, 1.752), (11686, 1.739), (11706, 1.739),
    (11686, 1.642), (11726, 1.635), (11759, 1.752),
    (11977, 1.752), (12011, 2.001), (12027, 2.03), (12044, 2.038), (12070, 2.022), (12033, 1.914),
    (12057, 1.88), (12057, 1.836), (12087, 1.946), (12031, 1.757), (12124, 1.752), (12138, 1.507),
    (12334, 1.752), (12361, 1.752), (12392, 1.752), (12392, 1.727), (12394, 1.543), (12410, 1.58),
    (12418, 1.507), (12412, 1.458), (12422, 1.455), (12418, 1.435), (12451, 1.553), (12471, 1.676),
    (12497, 1.667), (12504, 1.58),
    (12713, 1.752), (12745, 1.752), (12771, 1.749), (12796, 1.752), (12771, 1.813), (12822, 1.834),
    (12852, 1.822), (12856, 1.708),
    (13070, 1.752), (13096, 1.752), (13123, 1.874), (13126, 1.761), (13123, 1.708), (13130, 1.749),
    (13150, 1.802), (13154, 1.771), (13147, 1.752), (13180, 1.8), (13182, 1.866), (13203, 1.762),
    (13214, 1.725), (13233, 1.945),
    (13444, 1.752), (13457, 1.755), (13487, 1.752), (13450, 1.727), (13481, 1.655), (13477, 1.522),
    (13462, 1.448),
]

# reference colour levels (red dashed lines) and their JD span
ref_levels = [0.66, 1.09, 1.752]
ref_span = [9865, 13517]

ylabels = ['B-V = r-i', 'V-I = i-y', 'B-I = r-y']
ylims = [(0.0, 1.2), (0.4, 1.6), (1.05, 2.25)]
yticks = [[0.0, 0.2, 0.4, 0.6, 0.8, 1.0, 1.2],
          [0.4, 0.6, 0.8, 1.0, 1.2, 1.4, 1.6],
          [1.2, 1.4, 1.6, 1.8, 2.0, 2.2]]
xlim = (9816, 13565)
x_major = [10000, 11000, 12000, 13000]
year_ticks = [2024, 2026, 2028, 2030, 2032]

GRAY = '#999999'
GREEN = '#00ff00'
RED = '#ff0000'
FS = 59


def expand(rows):
    recs = []
    for jd, vals, err in rows:
        for v in vals:
            recs.append((jd, v, err))
    return pd.DataFrame(recs, columns=['jd', 'val', 'err'])


def jd_to_year(x):
    return 2024 + (x - 10310.5) / 365.25


def year_to_jd(y):
    return 10310.5 + (y - 2024) * 365.25


sns.set_theme(style='ticks')
plt.rcParams['font.family'] = ['Liberation Sans', 'DejaVu Sans']
plt.rcParams['mathtext.fontset'] = 'custom'
plt.rcParams['mathtext.rm'] = 'Liberation Sans'
plt.rcParams['mathtext.it'] = 'Liberation Sans:italic'
plt.rcParams['mathtext.bf'] = 'Liberation Sans:bold'
for key in ['text.color', 'axes.labelcolor', 'xtick.color', 'ytick.color',
            'xtick.labelcolor', 'ytick.labelcolor', 'axes.edgecolor']:
    plt.rcParams[key] = 'black'

W, H = 2639, 3813
fig = plt.figure(figsize=(W / 100, H / 100), dpi=100)
fig.patch.set_facecolor('white')

panel_px = [(105, 1089), (1366, 2348), (2625, 3610)]
left_px, right_px = 269, 2631

datasets = [(bv_gray, bv_green), (vi_gray, vi_green), (bi_gray, bi_green)]

for i, (top, bot) in enumerate(panel_px):
    ax = fig.add_axes([left_px / W, 1 - bot / H, (right_px - left_px) / W, (bot - top) / H])
    ax.set_facecolor('white')
    gray_rows, green_rows = datasets[i]
    gdf = expand(gray_rows)
    pdf = pd.DataFrame(green_rows, columns=['jd', 'val'])

    # reference level
    ax.plot(ref_span, [ref_levels[i]] * 2, color=RED, lw=4.6, dashes=(6.26, 6.07),
            solid_capstyle='butt', dash_capstyle='butt', zorder=1)
    # gray points with error bars
    ax.errorbar(gdf['jd'], gdf['val'], yerr=gdf['err'], fmt='none', ecolor=GRAY,
                elinewidth=1.7, capsize=0, zorder=2)
    sns.scatterplot(data=gdf, x='jd', y='val', marker='o', s=300, facecolors='none',
                    edgecolor=GRAY, linewidth=3.0, ax=ax, zorder=3, legend=False)
    # green points
    sns.scatterplot(data=pdf, x='jd', y='val', marker='P', s=230, color=GREEN,
                    edgecolor='none', linewidth=0, ax=ax, zorder=4, legend=False)

    ax.set_xlim(*xlim)
    ax.set_ylim(*ylims[i])
    ax.xaxis.set_major_locator(mticker.FixedLocator(x_major))
    ax.xaxis.set_minor_locator(mticker.MultipleLocator(100))
    ax.xaxis.set_major_formatter(mticker.FuncFormatter(lambda v, p: '%.1f\u00d710$^{4}$' % (v / 1e4)))
    ax.yaxis.set_major_locator(mticker.FixedLocator(yticks[i]))
    ax.yaxis.set_minor_locator(mticker.MultipleLocator(0.05))
    ax.yaxis.set_major_formatter(mticker.FormatStrFormatter('%.1f'))

    ax.tick_params(axis='x', which='both', direction='in', top=False, bottom=True,
                   colors='black', labelsize=FS)
    ax.tick_params(axis='x', which='major', length=15, width=1.6, pad=22)
    ax.tick_params(axis='x', which='minor', length=8, width=1.6)
    ax.tick_params(axis='y', which='both', direction='in', left=True, right=True,
                   colors='black', labelsize=FS)
    ax.tick_params(axis='y', which='major', length=34, width=1.6, pad=18)
    ax.tick_params(axis='y', which='minor', length=16.5, width=1.6)
    for sp in ax.spines.values():
        sp.set_visible(True)
        sp.set_linewidth(2.0)
        sp.set_color('black')

    labs = ax.get_yticklabels()
    if abs(yticks[i][0] - ylims[i][0]) < 1e-9:
        labs[0].set_va('bottom')
    if abs(yticks[i][-1] - ylims[i][1]) < 1e-9:
        labs[-1].set_va('top')

    ax.set_xlabel('')
    ax.set_ylabel(ylabels[i], fontsize=57, fontstyle='italic', va='center', color='black')
    ax.yaxis.set_label_coords((55 - left_px) / (right_px - left_px), 0.5)

    sec = ax.secondary_xaxis('top', functions=(jd_to_year, year_to_jd))
    sec.xaxis.set_major_locator(mticker.FixedLocator(year_ticks))
    sec.xaxis.set_minor_locator(mticker.MultipleLocator(0.5))
    sec.xaxis.set_major_formatter(mticker.FormatStrFormatter('%d'))
    sec.tick_params(which='major', direction='in', length=12, width=1.6, labelsize=FS, pad=11,
                    colors='black')
    sec.tick_params(which='minor', direction='in', length=8, width=1.6, colors='black')
    sec.spines['top'].set_linewidth(2.0)
    sec.spines['top'].set_color('black')

    if i == 2:
        ax.set_xlabel('Julian Date-2450000', fontsize=FS, color='black')
        ax.xaxis.set_label_coords(0.5, (bot - 3770) / (bot - top))
        ax.xaxis.label.set_va('center')

fig.savefig('out.png', dpi=100, facecolor='white')
